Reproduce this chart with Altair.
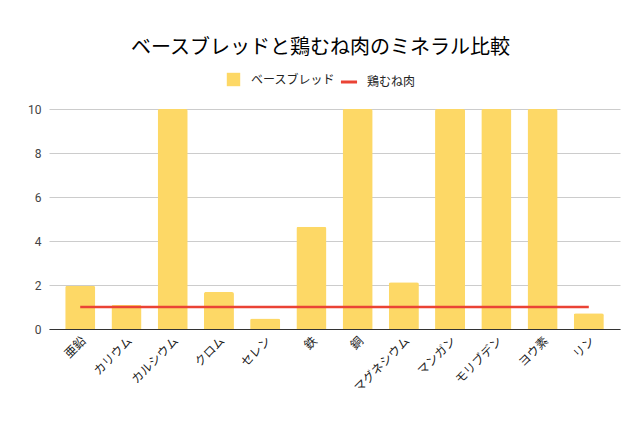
import altair as alt
import pandas as pd

minerals = ["亜鉛", "カリウム", "カルシウム", "クロム", "セレン", "鉄", "銅",
            "マグネシウム", "マンガン", "モリブデン", "ヨウ素", "リン"]
bread = [1.97, 1.1, 10, 1.68, 0.48, 4.65, 10, 2.12, 10, 10, 10, 0.72]
chicken = [1, 1, 1, 1, 1, 1, 1, 1, 1, 1, 1, 1]

s1 = "ベースブレッド"
s2 = "鶏むね肉"

df = pd.DataFrame({"mineral": minerals, "bread": bread, "chicken": chicken,
                   "s1": s1, "s2": s2})

FONT = "Roboto, 'Noto Sans CJK JP', sans-serif"

x_axis = alt.Axis(labelAngle=-45, labelFontSize=12, labelColor="#222",
                  labelFont=FONT, ticks=False, domain=True, domainColor="#333",
                  labelPadding=6, grid=False)
x_scale = alt.Scale(paddingInner=0.35, paddingOuter=0.35)
y_axis = alt.Axis(values=[0, 2, 4, 6, 8, 10], domain=False, ticks=False,
                  labelFontSize=12, labelColor="#444", labelFont=FONT,
                  gridColor="#cccccc", labelPadding=8, orient="left")
y_scale = alt.Scale(domain=[0, 10], clamp=True, nice=False)

bars = alt.Chart(df).mark_bar(cornerRadiusTopLeft=2, cornerRadiusTopRight=2).encode(
    x=alt.X("mineral:N", sort=minerals, title=None, scale=x_scale, axis=x_axis),
    y=alt.Y("bread:Q", title=None, scale=y_scale, axis=y_axis),
    fill=alt.Fill("s1:N", scale=alt.Scale(domain=[s1], range=["#fdd866"]),
                  legend=alt.Legend(title=None, orient="none", legendX=177, legendY=-37,
                                    symbolType="square", symbolSize=180,
                                    labelFontSize=12, labelColor="#222",
                                    labelFont=FONT, labelOffset=10)),
)

line = alt.Chart(df).mark_line(strokeWidth=2.5).encode(
    x=alt.X("mineral:N", sort=minerals, title=None, scale=x_scale, axis=x_axis),
    y=alt.Y("chicken:Q", title=None, scale=y_scale, axis=y_axis),
    stroke=alt.Stroke("s2:N", scale=alt.Scale(domain=[s2], range=["#ea4335"]),
                      legend=alt.Legend(title=None, orient="none", legendX=290, legendY=-37,
                                        symbolType="stroke", symbolSize=260,
                                        symbolStrokeWidth=3,
                                        labelFontSize=12, labelColor="#222",
                                        labelFont=FONT, labelOffset=8)),
)

chart = alt.layer(bars, line).resolve_scale(fill="independent", stroke="independent").properties(
    width=571, height=220,
    title=alt.TitleParams("ベースブレッドと鶏むね肉のミネラル比較", fontSize=20,
                          font=FONT, fontWeight="normal", color="#000",
                          anchor="middle", offset=14, dx=-14),
    autosize=alt.AutoSizeParams(type="none"),
    padding={"left": 41, "top": 101, "right": 4, "bottom": 80},
    background="white",
).configure_view(stroke="transparent", strokeWidth=0).configure_axisY(
    domain=False
).configure_axisRight(domain=False, labels=False, grid=False, ticks=False)

chart.save("out.html", embed_options={"renderer": "svg", "actions": False})
